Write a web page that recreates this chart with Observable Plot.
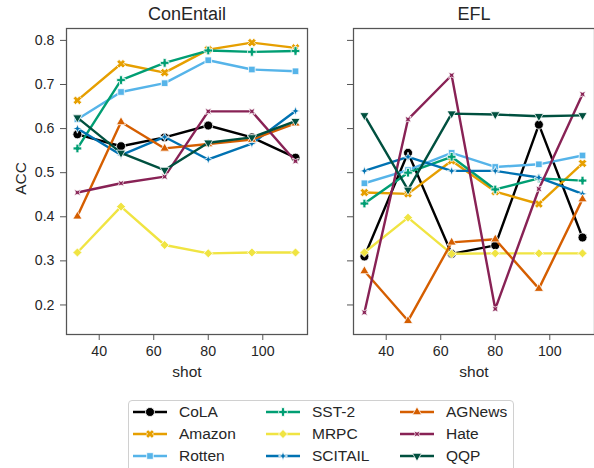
<!DOCTYPE html>
<html><head><meta charset="utf-8">
<script src="https://cdn.jsdelivr.net/npm/d3@7"></script>
<script src="https://cdn.jsdelivr.net/npm/@observablehq/plot@0.6"></script>
<style>
body{margin:0;background:#fff;font-family:"Liberation Sans",Arial,sans-serif;}
#wrap{position:relative;width:594px;height:468px;overflow:hidden;}
#left{position:absolute;left:0;top:0;}
#right{position:absolute;left:320px;top:0;}
#legend{position:absolute;left:128px;top:400px;width:386px;height:90px;border:1px solid #d0d0d0;border-radius:4px;box-sizing:border-box;}
.item{position:absolute;font-size:15.5px;color:#262626;line-height:18px;white-space:nowrap;}
</style></head><body>
<div id="wrap"><div id="left"></div><div id="right"></div><div id="legend"></div></div>
<script>
const shots = [32, 48, 64, 80, 96, 112];
const seriesNames = ["CoLA", "Amazon", "Rotten", "SST-2", "MRPC", "SCITAIL", "AGNews", "Hate", "QQP"];
const seriesColors = ["#000000", "#E69F00", "#56B4E9", "#009E73", "#F0E442", "#0072B2", "#D55E00", "#882255", "#00503F"];
const panelTitles = ["ConEntail", "EFL"];
const xTicks = [40, 60, 80, 100];
const yTicks = [0.2, 0.3, 0.4, 0.5, 0.6, 0.7, 0.8];

// ConEntail panel
const conCoLA    = [0.587, 0.560, 0.580, 0.607, 0.580, 0.534];
const conAmazon  = [0.664, 0.747, 0.727, 0.779, 0.795, 0.783];
const conRotten  = [0.621, 0.683, 0.703, 0.755, 0.734, 0.730];
const conSST2    = [0.555, 0.710, 0.749, 0.777, 0.774, 0.776];
const conMRPC    = [0.319, 0.423, 0.336, 0.317, 0.319, 0.319];
const conSCITAIL = [0.600, 0.540, 0.581, 0.530, 0.566, 0.640];
const conAGNews  = [0.401, 0.615, 0.555, 0.565, 0.575, 0.612];
const conHate    = [0.455, 0.476, 0.491, 0.639, 0.639, 0.526];
const conQQP     = [0.625, 0.545, 0.506, 0.568, 0.580, 0.617];

// EFL panel
const eflCoLA    = [0.310, 0.545, 0.316, 0.335, 0.609, 0.353];
const eflAmazon  = [0.455, 0.452, 0.527, 0.457, 0.429, 0.521];
const eflRotten  = [0.476, 0.506, 0.545, 0.513, 0.519, 0.539];
const eflSST2    = [0.430, 0.500, 0.536, 0.462, 0.487, 0.482];
const eflMRPC    = [0.319, 0.398, 0.316, 0.317, 0.317, 0.317];
const eflSCITAIL = [0.504, 0.536, 0.504, 0.504, 0.489, 0.452];
const eflAGNews  = [0.277, 0.164, 0.342, 0.349, 0.237, 0.440];
const eflHate    = [0.183, 0.621, 0.721, 0.191, 0.463, 0.678];
const eflQQP     = [0.630, 0.461, 0.634, 0.632, 0.628, 0.630];

const conValues = [conCoLA, conAmazon, conRotten, conSST2, conMRPC, conSCITAIL, conAGNews, conHate, conQQP];
const eflValues = [eflCoLA, eflAmazon, eflRotten, eflSST2, eflMRPC, eflSCITAIL, eflAGNews, eflHate, eflQQP];

// marker shapes (seaborn default marker cycle)
function poly(ctx, pts) { ctx.moveTo(pts[0][0], pts[0][1]); for (let i = 1; i < pts.length; i++) ctx.lineTo(pts[i][0], pts[i][1]); ctx.closePath(); }
function rot(pts, a) { const c = Math.cos(a), s = Math.sin(a); return pts.map(([x, y]) => [x * c - y * s, x * s + y * c]); }
function plusPts(L, w) { return [[w,-L],[w,-w],[L,-w],[L,w],[w,w],[w,L],[-w,L],[-w,w],[-L,w],[-L,-w],[-w,-w],[-w,-L]]; }
function starPts(R, r, a0) { const p = []; for (let i = 0; i < 8; i++) { const a = a0 + i * Math.PI / 4; const rr = i % 2 ? r : R; p.push([rr * Math.sin(a), -rr * Math.cos(a)]); } return p; }
function sym(fn) { return { draw(ctx, size) { const k = Math.sqrt(size / Math.PI) / 4.5; fn(ctx, k); } }; }
const symbols = [
  sym((c, k) => { c.moveTo(4.5 * k, 0); c.arc(0, 0, 4.5 * k, 0, 2 * Math.PI); }),
  sym((c, k) => poly(c, rot(plusPts(4.4 * k, 1.7 * k), Math.PI / 4))),
  sym((c, k) => poly(c, [[-3.3*k,-3.3*k],[3.3*k,-3.3*k],[3.3*k,3.3*k],[-3.3*k,3.3*k]])),
  sym((c, k) => poly(c, plusPts(4.3 * k, 1.5 * k))),
  sym((c, k) => poly(c, [[0,-4.5*k],[4.5*k,0],[0,4.5*k],[-4.5*k,0]])),
  sym((c, k) => poly(c, starPts(4.6 * k, 1.7 * k, 0))),
  sym((c, k) => poly(c, [[0,-5.2*k],[4.6*k,2.7*k],[-4.6*k,2.7*k]])),
  sym((c, k) => poly(c, starPts(4.3 * k, 1.8 * k, Math.PI / 4))),
  sym((c, k) => poly(c, [[0,5.2*k],[4.6*k,-2.7*k],[-4.6*k,-2.7*k]]))
];

function rowsFor(values) {
  const rows = [];
  values.forEach((arr, si) => arr.forEach((v, i) => rows.push({ series: seriesNames[si], shot: shots[i], acc: v })));
  return rows;
}

function panel(title, values, width, marginLeft, marginRight, showY) {
  const rows = rowsFor(values);
  const marks = [
    Plot.axisX({ ticks: xTicks, tickSize: 6, tickPadding: 5, label: null, stroke: "#555", fill: "#262626", fontSize: 14.2 }),
    Plot.axisY({ ticks: yTicks, tickSize: 6, tickPadding: 6, label: null, stroke: "#555", fill: "#262626", fontSize: 14.2,
      tickFormat: showY ? d3.format(".1f") : () => "" })
  ];
  seriesNames.forEach((s, si) => {
    const d = rows.filter(r => r.series === s);
    marks.push(Plot.line(d, { x: "shot", y: "acc", stroke: seriesColors[si], strokeWidth: 2.4 }));
    marks.push(Plot.dot(d, { x: "shot", y: "acc", symbol: symbols[si], r: 4.5, fill: seriesColors[si], stroke: "white", strokeWidth: 0.8 }));
  });
  marks.push(Plot.frame({ stroke: "#555", strokeWidth: 1.25 }));
  marks.push(Plot.text([title], { text: d => d, frameAnchor: "top", lineAnchor: "middle", dy: -14, fontSize: 18, fill: "#262626" }));
  marks.push(Plot.text(["shot"], { text: d => d, frameAnchor: "bottom", lineAnchor: "middle", dy: 37.5, fontSize: 15.5, fill: "#262626" }));
  if (showY) marks.push(Plot.text(["ACC"], { text: d => d, frameAnchor: "left", lineAnchor: "middle", textAnchor: "middle", dx: -45, dy: -3, rotate: -90, fontSize: 15.5, fill: "#262626" }));
  return Plot.plot({
    width, height: 385, marginTop: 28, marginBottom: 51, marginLeft, marginRight,
    x: { domain: [28, 116.4] },
    y: { domain: [0.133, 0.827] },
    style: { fontFamily: '"Liberation Sans", Arial, sans-serif', fontSize: "14px", color: "#262626", background: "white", overflow: "visible" },
    marks
  });
}

document.getElementById("left").appendChild(panel(panelTitles[0], conValues, 320, 66, 13, true));
document.getElementById("right").appendChild(panel(panelTitles[1], eflValues, 274, 33, 0, false));

// legend
const legend = document.getElementById("legend");
const colX = [[5, 50], [138, 183], [272, 317]];
const rowY = [12, 34, 56];
seriesNames.forEach((s, si) => {
  const col = Math.floor(si / 3), row = si % 3;
  const sw = document.createElementNS("http://www.w3.org/2000/svg", "svg");
  sw.setAttribute("width", 36); sw.setAttribute("height", 14);
  sw.style.position = "absolute"; sw.style.left = (colX[col][0] - 1) + "px"; sw.style.top = (rowY[row] - 8) + "px";
  const ln = document.createElementNS("http://www.w3.org/2000/svg", "line");
  ln.setAttribute("x1", 0); ln.setAttribute("x2", 34); ln.setAttribute("y1", 7); ln.setAttribute("y2", 7);
  ln.setAttribute("stroke", seriesColors[si]); ln.setAttribute("stroke-width", 2.4);
  sw.appendChild(ln);
  const p = d3.path(); symbols[si].draw(p, Math.PI * 4.5 * 4.5);
  const path = document.createElementNS("http://www.w3.org/2000/svg", "path");
  path.setAttribute("d", p.toString()); path.setAttribute("transform", "translate(17,7)");
  path.setAttribute("fill", seriesColors[si]); path.setAttribute("stroke", "white"); path.setAttribute("stroke-width", 0.8);
  sw.appendChild(path);
  legend.appendChild(sw);
  const t = document.createElement("div");
  t.className = "item"; t.textContent = s;
  t.style.left = colX[col][1] + "px"; t.style.top = (rowY[row] - 10) + "px";
  legend.appendChild(t);
});
</script>
</body></html>
